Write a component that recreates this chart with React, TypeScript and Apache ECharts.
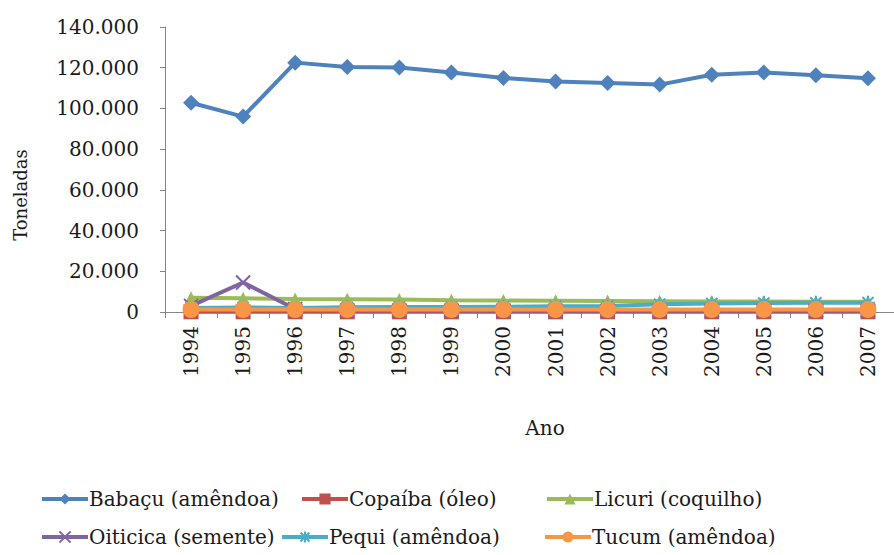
import React, { useEffect, useRef } from "react";
import * as echarts from "echarts";

const anos = ["1994", "1995", "1996", "1997", "1998", "1999", "2000", "2001", "2002", "2003", "2004", "2005", "2006", "2007"];

const babacu = [102800, 96000, 122500, 120300, 120100, 117600, 115000, 113200, 112500, 111700, 116500, 117600, 116300, 114800];
const copaiba = [100, 100, 100, 100, 100, 100, 100, 100, 100, 100, 100, 100, 100, 100];
const licuri = [7000, 6700, 6400, 6300, 6100, 5800, 5600, 5500, 5400, 5300, 5200, 5100, 5000, 5000];
const oiticica = [3000, 14500, 1500, 800, 800, 700, 700, 700, 700, 700, 700, 700, 700, 700];
const pequi = [2000, 2200, 2000, 2300, 2500, 2400, 2600, 2800, 3000, 3800, 4200, 4400, 4500, 4600];
const tucum = [1200, 1200, 1200, 1200, 1200, 1200, 1200, 1200, 1200, 1200, 1200, 1200, 1200, 1200];

const yTicks = [0, 20000, 40000, 60000, 80000, 100000, 120000, 140000];

const FONT = "DejaVu Serif";
const TEXT = "#1a1a1a";
const FS = 20;

const fmt = (v: number) => (v === 0 ? "0" : v.toLocaleString("pt-BR"));

type Serie = { name: string; data: number[]; color: string; symbol: string; size: number };

const series: Serie[] = [
  { name: "Babaçu (amêndoa)", data: babacu, color: "#4F81BD", symbol: "diamond", size: 16 },
  { name: "Copaíba (óleo)", data: copaiba, color: "#C0504D", symbol: "rect", size: 15 },
  { name: "Licuri (coquilho)", data: licuri, color: "#9BBB59", symbol: "triangle", size: 13 },
  { name: "Oiticica (semente)", data: oiticica, color: "#8064A2", symbol: "path://M0,0L10,10M10,0L0,10", size: 14 },
  { name: "Pequi (amêndoa)", data: pequi, color: "#4BACC6", symbol: "path://M0,5L10,5M5,0L5,10M1,1L9,9M9,1L1,9", size: 14 },
  { name: "Tucum (amêndoa)", data: tucum, color: "#F79646", symbol: "circle", size: 17 },
];

// legend entries: [left, top]
const legendPos: [number, number][] = [
  [40, 489],
  [300, 489],
  [545, 489],
  [40, 527],
  [280, 527],
  [543, 527],
];

export default function App() {
  const ref = useRef<HTMLDivElement>(null);

  useEffect(() => {
    document.body.style.margin = "0";
    const chart = echarts.init(ref.current!, undefined, { renderer: "svg" });
    const isCross = (s: Serie) => s.symbol.startsWith("path://");
    chart.setOption({
      animation: false,
      backgroundColor: "#ffffff",
      textStyle: { fontFamily: FONT },
      grid: { left: 165, top: 27, width: 735, height: 285, containLabel: false },
      xAxis: {
        type: "category",
        data: anos,
        boundaryGap: true,
        axisLine: { lineStyle: { color: "#868686", width: 1 } },
        axisTick: { show: true, alignWithLabel: false, length: 6, lineStyle: { color: "#868686" } },
        axisLabel: { rotate: 90, margin: 14, color: TEXT, fontFamily: FONT, fontSize: FS },
        splitLine: { show: false },
      },
      yAxis: {
        type: "value",
        min: 0,
        max: 140000,
        interval: 20000,
        axisLine: { show: true, lineStyle: { color: "#868686", width: 1 } },
        axisTick: { show: true, length: 5, lineStyle: { color: "#868686" } },
        axisLabel: {
          margin: 26,
          color: TEXT,
          fontFamily: FONT,
          fontSize: FS,
          formatter: (v: number) => (yTicks.includes(v) ? fmt(v) : ""),
        },
        splitLine: { show: false },
      },
      legend: series.map((s, i) => ({
        left: legendPos[i][0],
        top: legendPos[i][1],
        orient: "horizontal",
        itemWidth: 46,
        itemHeight: 14,
        itemGap: 0,
        padding: 0,
        data: [s.name],
        lineStyle: { width: 4 },
        textStyle: { fontFamily: FONT, fontSize: FS, color: TEXT, padding: [0, 0, 0, -4] },
      })),
      series: series.map((s) => ({
        name: s.name,
        type: "line",
        data: s.data,
        symbol: s.symbol,
        symbolSize: s.size,
        showSymbol: true,
        lineStyle: { color: s.color, width: 4 },
        itemStyle: isCross(s)
          ? { color: "none", borderColor: s.color, borderWidth: 2 }
          : { color: s.color, borderColor: s.color, borderWidth: 0 },
        emphasis: { disabled: true },
      })),
      graphic: [
        {
          type: "text",
          x: 20,
          y: 195,
          rotation: Math.PI / 2,
          style: {
            text: "Toneladas",
            fontFamily: FONT,
            fontSize: 18,
            fill: TEXT,
            align: "center",
            verticalAlign: "middle",
          },
        },
        {
          type: "text",
          x: 545,
          y: 428,
          style: {
            text: "Ano",
            fontFamily: FONT,
            fontSize: FS,
            fill: TEXT,
            align: "center",
            verticalAlign: "middle",
          },
        },
      ],
    });
    return () => chart.dispose();
  }, []);

  return <div ref={ref} style={{ width: 894, height: 555 }} />;
}
